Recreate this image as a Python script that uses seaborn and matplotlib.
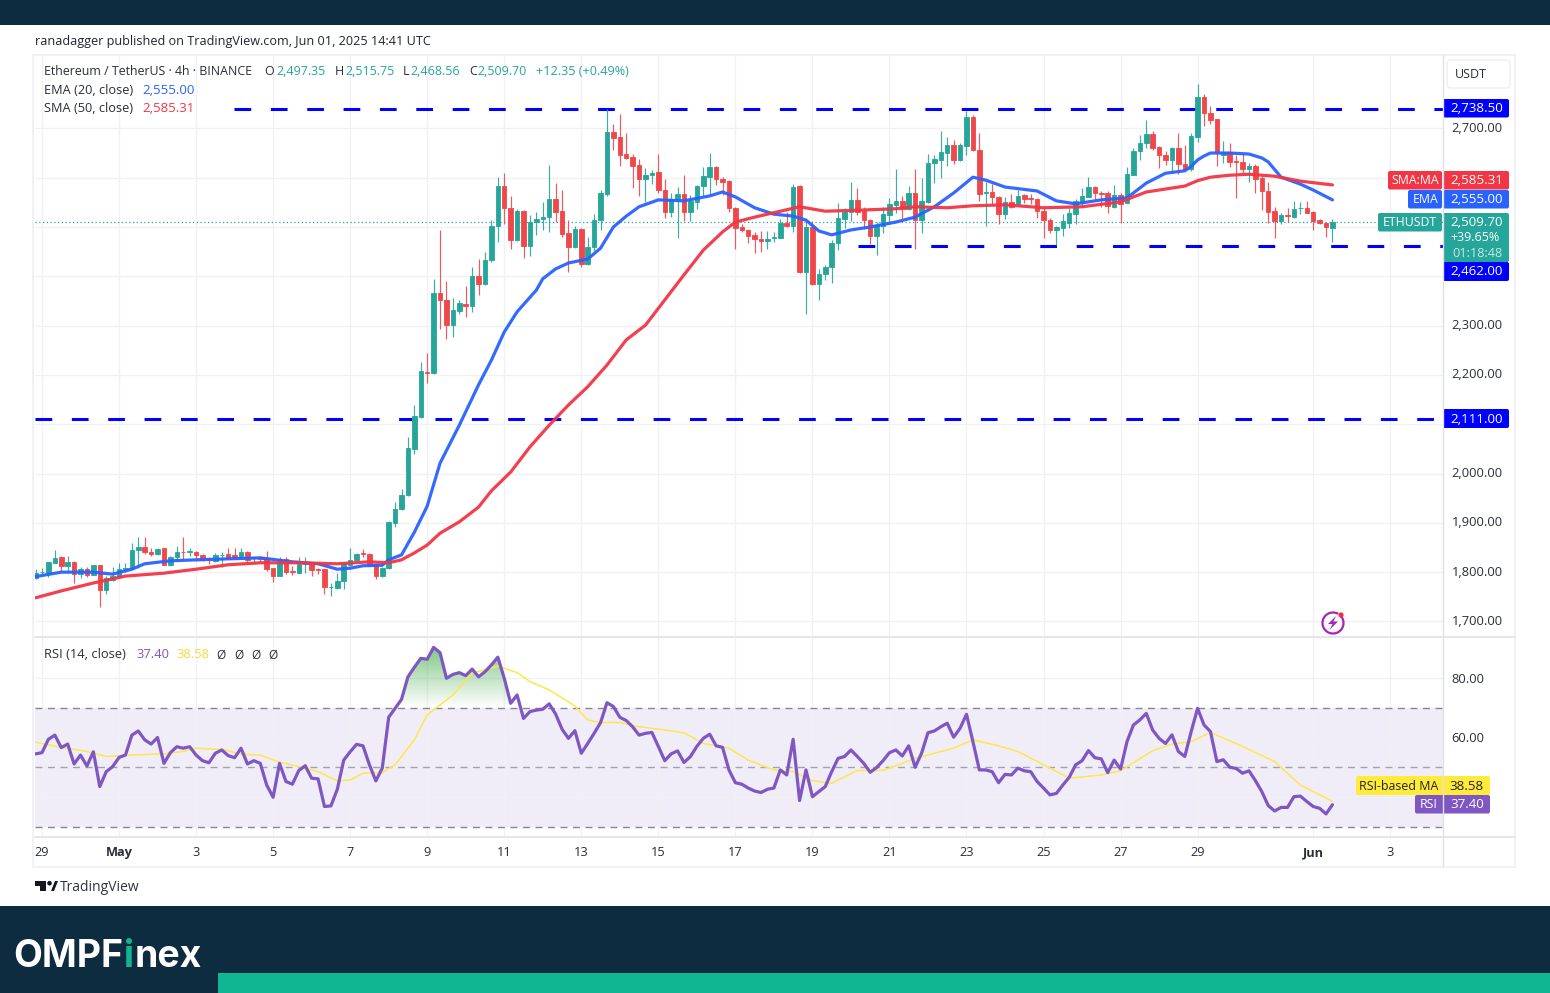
import numpy as np
import pandas as pd
import matplotlib
matplotlib.use("Agg")
import matplotlib.pyplot as plt
import seaborn as sns
from matplotlib.patches import Rectangle, FancyBboxPatch, Circle, Polygon, Arc
from matplotlib.path import Path
from matplotlib.transforms import ScaledTranslation

# ---------- data ----------
first_bar = -1
opens = [1785,1797,1796,1816,1827,1810,1818,1793,1803,1792,
1811,1760,1781,1788,1803,1806,1842,1849,1838,1833,
1845,1812,1828,1838,1837,1838,1831,1823,1820,1831,
1833,1832,1827,1837,1826,1827,1825,1805,1790,1823,
1799,1796,1814,1816,1803,1803,1766,1765,1779,1812,
1822,1835,1834,1814,1789,1805,1897,1925,1953,2046,
2112,2203,2200,2363,2349,2298,2327,2341,2337,2398,
2381,2430,2498,2580,2536,2471,2530,2459,2507,2513,
2518,2554,2529,2484,2456,2493,2421,2457,2511,2563,
2690,2679,2645,2639,2623,2594,2602,2608,2573,2528,
2554,2563,2528,2547,2580,2599,2619,2594,2590,2536,
2496,2491,2481,2473,2468,2475,2475,2506,2499,2580,
2405,2496,2381,2401,2415,2464,2514,2527,2552,2530,
2511,2479,2500,2521,2542,2550,2533,2565,2511,2547,
2626,2633,2648,2663,2633,2662,2721,2654,2565,2567,
2558,2523,2548,2543,2561,2555,2553,2530,2511,2490,
2495,2506,2524,2548,2557,2579,2565,2565,2538,2562,
2546,2603,2651,2667,2686,2659,2643,2633,2657,2625,
2614,2680,2761,2729,2715,2642,2650,2630,2629,2615,
2621,2596,2571,2529,2510,2521,2517,2535,2535,2527,
2511,2506,2497.35]
highs = [1803,1806,1818,1841,1830,1830,1820,1807,1808,1812,
1812,1789,1807,1816,1815,1857,1869,1868,1847,1847,
1847,1830,1851,1868,1845,1839,1833,1827,1835,1837,
1845,1847,1847,1839,1828,1830,1839,1806,1827,1827,
1810,1827,1828,1818,1806,1804,1776,1795,1815,1847,
1835,1843,1835,1815,1807,1901,1940,1965,2072,2137,
2224,2242,2391,2490,2388,2352,2349,2378,2415,2433,
2447,2511,2598,2607,2560,2533,2531,2521,2528,2548,
2623,2586,2573,2511,2498,2495,2477,2523,2572,2736,
2706,2726,2687,2646,2634,2616,2613,2646,2594,2565,
2579,2602,2562,2582,2619,2648,2621,2599,2592,2537,
2504,2492,2486,2488,2488,2486,2513,2528,2584,2583,
2514,2510,2411,2420,2471,2545,2535,2588,2577,2538,
2514,2508,2538,2555,2614,2560,2580,2614,2596,2645,
2644,2692,2680,2673,2667,2733,2724,2688,2589,2584,
2560,2557,2564,2573,2563,2564,2555,2538,2516,2500,
2523,2535,2553,2577,2599,2581,2571,2570,2583,2565,
2618,2657,2684,2713,2692,2662,2652,2660,2688,2663,
2687,2788,2766,2743,2717,2672,2668,2643,2648,2627,
2625,2602,2589,2538,2525,2536,2550,2548,2550,2529,
2514,2508,2515.75]
lows = [1784,1789,1787,1815,1798,1800,1776,1786,1788,1791,
1727,1752,1780,1787,1798,1803,1805,1834,1830,1831,
1811,1810,1820,1823,1830,1820,1819,1814,1818,1807,
1823,1823,1824,1816,1816,1818,1800,1778,1789,1793,
1792,1796,1796,1789,1793,1753,1749,1762,1762,1810,
1820,1827,1810,1783,1787,1804,1889,1924,1952,2036,
2109,2181,2199,2291,2269,2273,2320,2315,2325,2359,
2379,2427,2467,2504,2452,2469,2435,2439,2481,2491,
2486,2508,2477,2406,2454,2415,2419,2449,2490,2560,
2653,2621,2634,2577,2559,2548,2584,2565,2515,2517,
2475,2510,2510,2533,2559,2559,2582,2562,2528,2452,
2487,2465,2445,2447,2452,2467,2474,2496,2487,2403,
2320,2379,2348,2389,2383,2450,2494,2510,2521,2492,
2462,2441,2484,2508,2525,2514,2531,2452,2485,2546,
2586,2596,2621,2625,2631,2644,2651,2550,2498,2544,
2504,2514,2535,2541,2545,2544,2516,2474,2485,2460,
2479,2494,2504,2537,2557,2553,2537,2525,2535,2506,
2545,2602,2633,2657,2653,2617,2623,2609,2604,2613,
2611,2669,2702,2706,2621,2627,2618,2556,2606,2588,
2565,2532,2506,2474,2504,2508,2516,2523,2525,2491,
2504,2477,2468.56]
closes = [1796,1798,1818,1826,1810,1818,1793,1803,1792,1811,
1760,1785,1789,1804,1806,1842,1848,1837,1833,1844,
1812,1828,1837,1837,1839,1831,1822,1822,1831,1832,
1826,1827,1838,1822,1827,1823,1803,1789,1823,1797,
1797,1814,1816,1801,1801,1766,1767,1779,1815,1822,
1834,1833,1812,1789,1805,1898,1925,1953,2048,2114,
2204,2201,2363,2348,2298,2329,2342,2337,2398,2381,
2431,2498,2580,2535,2471,2530,2459,2507,2513,2518,
2554,2528,2483,2457,2493,2421,2457,2511,2565,2690,
2677,2644,2636,2621,2594,2602,2607,2572,2528,2554,
2563,2528,2550,2581,2600,2618,2594,2589,2535,2494,
2491,2479,2473,2468,2473,2477,2506,2499,2579,2405,
2496,2381,2402,2415,2465,2516,2528,2552,2528,2511,
2479,2501,2523,2543,2550,2533,2565,2511,2550,2627,
2634,2650,2663,2633,2663,2721,2653,2564,2567,2557,
2523,2547,2538,2560,2553,2553,2530,2511,2490,2496,
2509,2525,2550,2559,2579,2565,2564,2540,2562,2544,
2604,2652,2667,2685,2657,2642,2633,2657,2624,2614,
2682,2761,2729,2713,2650,2650,2628,2628,2614,2621,
2595,2571,2528,2510,2521,2519,2533,2536,2526,2510,
2506,2497,2509.70]

ema_bars = [-1,3,8,11,14,16,20,24,29,34,39,43,46,48,50,53,54,56,58,60,62,65,68,70,72,74,77,78,80,82,85,87,89,91,93,96,100,104,106,108,111,114,117,119,121,123,126,129,133,136,139,142,145,147,150,155,158,161,165,169,172,175,178,179,180,181,182,185,188,190,191,193,196,198,201]
ema_vals = [1788,1797,1797,1793,1803,1814,1820,1822,1824,1826,1818,1814,1803,1805,1810,1811,1822,1832,1878,1931,2018,2095,2177,2227,2284,2325,2369,2392,2412,2424,2432,2454,2497,2519,2538,2552,2550,2560,2568,2558,2536,2523,2519,2511,2489,2481,2491,2497,2507,2517,2538,2566,2598,2592,2578,2570,2550,2544,2552,2556,2586,2606,2611,2620,2633,2641,2647,2647,2645,2637,2629,2598,2584,2572,2555]
sma_bars = [-1,3,8,13,19,24,29,34,40,46,51,54,56,58,60,62,65,68,70,73,76,79,82,85,88,91,94,97,100,103,106,108,111,115,118,122,127,133,136,141,145,150,156,162,168,172,178,180,182,185,188,192,196,201]
sma_vals = [1745,1759,1775,1789,1795,1803,1812,1816,1816,1814,1818,1816,1822,1836,1852,1876,1899,1929,1962,2000,2051,2095,2136,2173,2217,2268,2298,2349,2400,2450,2487,2507,2517,2529,2538,2529,2531,2534,2538,2536,2540,2542,2536,2538,2548,2568,2580,2591,2598,2602,2604,2600,2590,2585.31]

rsi_vals = [54.5,54.9,59.4,60.8,56.6,57.8,51.1,54.1,50.4,55.2,
43.5,48.5,50.2,53.3,54.1,60.8,62.2,59.2,57.8,60.0,
51.3,54.9,56.9,56.4,56.9,54.1,52.2,51.5,54.7,55.8,
53.9,53.2,56.4,51.1,52.2,51.3,44.0,39.9,51.3,45.2,
44.3,48.9,50.5,46.3,46.1,36.8,37.0,42.6,52.4,55.2,
57.7,57.2,50.8,45.4,49.7,66.8,69.8,72.8,80.4,83.6,
86.6,86.3,90.3,88.5,79.9,81.2,81.8,80.8,83.0,80.4,
82.1,84.4,87.0,79.9,71.5,74.3,66.4,68.7,69.2,69.5,
71.3,67.9,62.8,59.7,62.3,54.7,58.0,61.4,65.0,71.7,
70.4,66.8,65.7,63.6,60.8,61.4,61.7,57.0,52.2,54.5,
55.5,51.6,53.6,57.0,59.7,61.1,57.2,56.7,49.1,44.8,
44.3,43.0,42.0,41.5,42.6,43.0,49.1,47.4,59.4,38.8,
49.1,40.1,41.8,43.5,48.5,53.0,53.6,55.8,53.6,51.3,
48.3,49.9,52.2,54.9,55.8,53.8,57.2,50.0,54.7,61.6,
62.2,63.6,64.8,60.1,63.1,67.8,58.6,49.1,49.1,48.5,
44.8,47.6,47.4,49.7,48.8,48.5,45.2,43.0,40.7,41.2,
44.0,46.6,50.8,52.2,55.6,53.2,52.8,48.2,52.4,49.4,
58.6,64.2,65.9,68.1,62.5,59.7,58.0,60.9,55.3,53.6,
62.0,69.8,64.2,62.0,51.9,52.5,50.0,49.6,48.0,48.8,
45.5,41.8,37.1,35.3,36.5,36.5,40.1,40.3,38.5,36.8,
36.2,34.3,37.40]
rsima_bars = [-1,3,7,10,14,19,22,24,28,31,34,37,40,43,46,48,50,53,55,58,60,64,67,71,74,76,79,83,85,87,90,92,96,100,103,107,110,114,117,120,123,127,131,136,142,145,149,152,156,160,165,168,173,176,179,182,187,192,196,201]
rsima_vals = [58.4,56.7,55.3,53.6,54.1,54.5,55.3,56.4,56.0,54.4,54.1,51.7,50.2,48.5,45.4,45.7,48.0,48.2,50.8,59.2,67.6,74.3,81.6,84.0,81.8,78.8,76.0,70.6,65.9,65.0,65.1,63.9,62.8,61.6,58.0,56.4,52.4,49.1,48.5,45.5,44.6,48.9,48.9,53.0,56.4,59.2,57.2,55.3,50.8,46.3,47.4,48.8,55.6,57.8,58.6,61.7,57.0,51.9,44.0,38.58]

levels = [2738.50, 2462.00, 2111.00]
level_start_bars = [29.9, 127.1, -1.09]
price_ticks = [1700,1800,1900,2000,2100,2200,2300,2400,2500,2600,2700]
price_labels = ["1,700.00","1,800.00","1,900.00","2,000.00","","2,200.00","2,300.00","","","","2,700.00"]
rsi_ticks = [40,60,80]
rsi_labels = ["","60.00","80.00"]
date_bars = [0,12,24,36,48,60,72,84,96,108,120,132,144,156,168,180,198,210]
date_labels = ["29","May","3","5","7","9","11","13","15","17","19","21","23","25","27","29","Jun","3"]
last_price = 2509.70
# my read-offs were taken against the tick labels, which sit above their gridlines
reading_bias = 3.0

# ---------- style ----------
sns.set_theme(style="white")
FONT = ["Open Sans", "DejaVu Sans"]
plt.rcParams["font.family"] = FONT
GREEN, RED = "#26a69a", "#f0474a"
BLUE, MARED, PURPLE, YEL = "#2962ff", "#f23645", "#7e57c2", "#fde74c"
DARK = "#0e2c40"; TXT = "#2a2e39"; GRID = "#f0f1f5"

W, H = 1550, 993
fig = plt.figure(figsize=(W/100, H/100), dpi=100, facecolor="white")

def axpx(x0, y0, x1, y1, **kw):
    return fig.add_axes([x0/W, 1-y1/H, (x1-x0)/W, (y1-y0)/H], **kw)

ax = axpx(35, 55, 1443, 637)
rs = axpx(35, 637, 1443, 837)
ov = fig.add_axes([0, 0, 1, 1], zorder=5)
ov.set_xlim(0, W); ov.set_ylim(H, 0); ov.axis("off"); ov.patch.set_alpha(0)

xlim = (-1.09, 218.22)
df = pd.DataFrame({"o": opens, "h": highs, "l": lows, "c": closes}, dtype=float)
df.iloc[:-1] += reading_bias
df["bar"] = np.arange(len(df)) + first_bar
df["up"] = df.c >= df.o
ema_y = np.array(ema_vals, float); ema_y[:-1] += reading_bias
sma_y = np.array(sma_vals, float); sma_y[:-1] += reading_bias

for a in (ax, rs):
    a.set_xlim(*xlim)
    for s in a.spines.values():
        s.set_visible(False)
    a.set_xticks(date_bars)
    a.grid(True, axis="both", color=GRID, lw=1.0, zorder=0)
    a.set_axisbelow(True)
    a.yaxis.tick_right()

ax.set_ylim(1668.5, 2848.8)
ax.set_yticks(price_ticks); ax.set_yticklabels(price_labels)
ax.tick_params(axis="y", length=0, pad=6.3, labelsize=9.3, labelcolor=TXT, right=False)
ax.tick_params(axis="x", length=0, labelbottom=False)
for t in ax.get_yticklabels():
    t.set_transform(t.get_transform() + ScaledTranslation(0, 1.5/100, fig.dpi_scale_trans))

rs.set_ylim(26.55, 93.78)
rs.set_yticks(rsi_ticks); rs.set_yticklabels(rsi_labels)
rs.tick_params(axis="y", length=0, pad=6.3, labelsize=9.3, labelcolor=TXT, right=False)
rs.set_xticklabels(date_labels)
rs.tick_params(axis="x", length=0, pad=6.6, labelsize=9.2, labelcolor=TXT)
for t in rs.get_xticklabels():
    if t.get_text() in ("May", "Jun"):
        t.set_fontweight("bold")

# level lines
for lv, st in zip(levels, level_start_bars):
    ax.plot([st, xlim[1]], [lv, lv], color="#0000ff", lw=2.2,
            linestyle=(0, (5.47, 6.43)), dash_capstyle="butt", zorder=1.5)

# candles
for up, col in ((True, GREEN), (False, RED)):
    d = df[df.up == up]
    ax.vlines(d.bar, d.l, d.h, color=col, lw=0.85, alpha=0.9, zorder=2)
    lo = d[["o", "c"]].min(axis=1)
    ax.bar(d.bar, (d.c-d.o).abs(), bottom=lo, width=0.7, color=col,
           edgecolor=col, lw=0.6, zorder=2.2)

# last-price line
ax.plot(xlim, [last_price, last_price], color=GREEN, lw=0.9, ls=(0, (1, 2)), zorder=1.8)

# moving averages
sns.lineplot(x=ema_bars, y=ema_y, ax=ax, color=BLUE, lw=2.3, alpha=.95, zorder=3, legend=False, errorbar=None, estimator=None, solid_joinstyle="round")
sns.lineplot(x=sma_bars, y=sma_y, ax=ax, color=MARED, lw=2.3, alpha=.95, zorder=3.1, legend=False, errorbar=None, estimator=None, solid_joinstyle="round")
ax.set_xlabel(""); ax.set_ylabel("")

# RSI panel
x_rsi = df.bar.values.astype(float)
y_rsi = np.array(rsi_vals)
rs.axhspan(30, 70, color=PURPLE, alpha=0.105, lw=0, zorder=0.5)
for lv in (70, 50, 30):
    rs.axhline(lv, color="#787b86", lw=1.0, ls=(0, (5, 4)), alpha=.9 if lv != 50 else .65, zorder=1)
fb = rs.fill_between(x_rsi, 70, y_rsi, where=y_rsi >= 70, interpolate=True, color="none", lw=0)
path = Path.make_compound_path(*fb.get_paths())
grad = np.zeros((64, 2, 4))
grad[..., 0] = 76/255; grad[..., 1] = 175/255; grad[..., 2] = 80/255
grad[..., 3] = np.linspace(0.72, 0.0, 64)[:, None]
im = rs.imshow(grad, extent=(x_rsi[0], x_rsi[-1], 70, 91), aspect="auto", origin="upper", zorder=1.2, interpolation="bilinear")
im.set_clip_path(path, rs.transData)
rs.set_xlim(*xlim); rs.set_ylim(26.55, 93.78)
sns.lineplot(x=rsima_bars, y=rsima_vals, ax=rs, color=YEL, lw=1.1, zorder=2, legend=False, errorbar=None, estimator=None, solid_joinstyle="round")
sns.lineplot(x=x_rsi, y=y_rsi, ax=rs, color=PURPLE, lw=2.3, zorder=3, legend=False, errorbar=None, estimator=None, solid_joinstyle="round")
rs.set_xlabel(""); rs.set_ylabel("")

# ---------- page furniture (pixel coordinates) ----------
def rect(x0, y0, x1, y1, c, **kw):
    ov.add_patch(Rectangle((x0, y0), x1-x0, y1-y0, facecolor=c, edgecolor="none", **kw))

def txt(x, y, s, c=TXT, size=9, ha="left", **kw):
    return ov.text(x, y+0.8, s, color=c, fontsize=size, ha=ha, va="center", **kw)

def rtag(x0, x1, y0, y1, c):
    ov.add_patch(FancyBboxPatch((x0+1, y0+1), x1-x0-2, y1-y0-2, boxstyle="round,pad=1,rounding_size=2",
                                facecolor=c, edgecolor="none"))

rect(0, 0, W, 25, DARK)
rect(0, 906, W, 993, DARK)
rect(218, 973, W, 993, "#10b591")

# frame
ov.add_patch(Rectangle((33, 55), 1482, 812, fill=False, edgecolor="#eeeff2", lw=1.2))
ov.plot([35, 1515], [637, 637], color="#e4e6ec", lw=1.5)
ov.plot([35, 1515], [837, 837], color="#e4e6ec", lw=1.5)
ov.plot([1443, 1443], [55, 867], color="#dfe1e8", lw=1.0)

txt(35, 41, "ranadagger published on TradingView.com, Jun 01, 2025 14:41 UTC", c="#1f2430", size=9.1)

# legend
txt(44, 71, "Ethereum / TetherUS · 4h · BINANCE", size=8.9)
for x, lab, x2, val in ((264, "O", 276, "2,497.35"), (335, "H", 345, "2,515.75"), (403, "L", 410, "2,468.56"), (469, "C", 477, "2,509.70")):
    txt(x, 71, lab, size=9); txt(x2, 71, val, c=GREEN, size=9)
txt(536, 71, "+12.35 (+0.49%)", c=GREEN, size=9.1)
txt(44, 89.5, "EMA (20, close)", size=9.2); txt(142, 89.5, "2,555.00", c=BLUE, size=9.5)
txt(44, 108, "SMA (50, close)", size=9.2); txt(142, 108, "2,585.31", c=MARED, size=9.5)
txt(44, 654, "RSI (14, close)", size=9.3); txt(136, 654, "37.40", c=PURPLE, size=9.3); txt(176, 654, "38.58", c="#f5d93a", size=9.3)
for x in (216, 234, 251, 268):
    txt(x, 654, "Ø", size=8.5)

# USDT button
ov.add_patch(FancyBboxPatch((1448, 61), 61, 26, boxstyle="round,pad=1,rounding_size=4", facecolor="white", edgecolor="#eeeff2", lw=1))
txt(1471, 74, "USDT", size=9, ha="center")

# price tags
TV = 9.6
rtag(1443, 1509, 99, 117.5, "#0000ff"); txt(1503, 108, "2,738.50", c="white", size=TV, ha="right")
rtag(1388, 1442, 171, 189.5, MARED); txt(1415, 180, "SMA:MA", c="white", size=8.8, ha="center")
rtag(1443, 1509, 171, 189.5, MARED); txt(1503, 180, "2,585.31", c="white", size=TV, ha="right")
rtag(1408, 1442, 190, 208.5, BLUE); txt(1425.5, 199, "EMA", c="white", size=8.8, ha="center")
rtag(1443, 1509, 190, 208.5, BLUE); txt(1503, 199, "2,555.00", c="white", size=TV, ha="right")
rtag(1378, 1442, 213, 231.5, GREEN); txt(1410, 222, "ETHUSDT", c="white", size=8.8, ha="center")
rtag(1443, 1509, 213, 262, GREEN)
txt(1503, 222, "2,509.70", c="white", size=TV, ha="right")
txt(1500, 237, "+39.65%", c="white", size=9, ha="right")
txt(1503, 252.5, "01:18:48", c="#c5e8e3", size=9.2, ha="right")
rtag(1443, 1509, 262, 281, "#0000ff"); txt(1503, 271, "2,462.00", c="white", size=TV, ha="right")
rtag(1443, 1509, 409, 428, "#0000ff"); txt(1503, 418.5, "2,111.00", c="white", size=TV, ha="right")

rtag(1356, 1490, 776, 795, "#ffeb3b")
txt(1399, 785.5, "RSI-based MA", c="#222", size=8.9, ha="center"); txt(1484, 785.5, "38.58", c="#222", size=TV, ha="right")
rtag(1415, 1490, 795, 813.5, PURPLE)
txt(1429, 804, "RSI", c="white", size=8.8, ha="center"); txt(1484, 804, "37.40", c="white", size=TV, ha="right")
ov.plot([1443, 1443], [776, 813], color="#dfe1e8", lw=0.6, alpha=.6)

# lightning icon
ov.add_patch(Arc((1333, 623), 21, 21, theta1=-40, theta2=300, edgecolor="#a326b8", lw=1.6))
ov.add_patch(Polygon([(1336, 616), (1328, 624), (1332.5, 624), (1329.5, 630), (1338, 621.5), (1333.5, 621.5)], facecolor="#a326b8", edgecolor="none"))
ov.add_patch(Circle((1341, 615), 2.6, facecolor="#f0303a", edgecolor="none"))

# TradingView mark
LOGO = "#131722"
rect(35, 881, 46, 885.5, LOGO); rect(39.5, 881, 46, 891, LOGO)
ov.add_patch(Circle((49.5, 883.2), 2.3, facecolor=LOGO, edgecolor="none"))
ov.add_patch(Polygon([(51, 891), (55, 881), (58, 881), (54, 891)], facecolor=LOGO, edgecolor="none"))
txt(60, 886.5, "TradingView", c="#30343f", size=10)

# brand, laid out from real text extents
fig.canvas.draw()
r = fig.canvas.get_renderer()
x = 13.5
for part, col in (("OMPF", "white"), ("i", "#10b591"), ("nex", "white")):
    t = ov.text(x, 957, part, color=col, fontsize=26.9, fontweight="bold", family=["Inter", "DejaVu Sans"], va="center", ha="left")
    x += t.get_window_extent(r).width + 0.5

fig.savefig("out.png", dpi=100, facecolor="white")
